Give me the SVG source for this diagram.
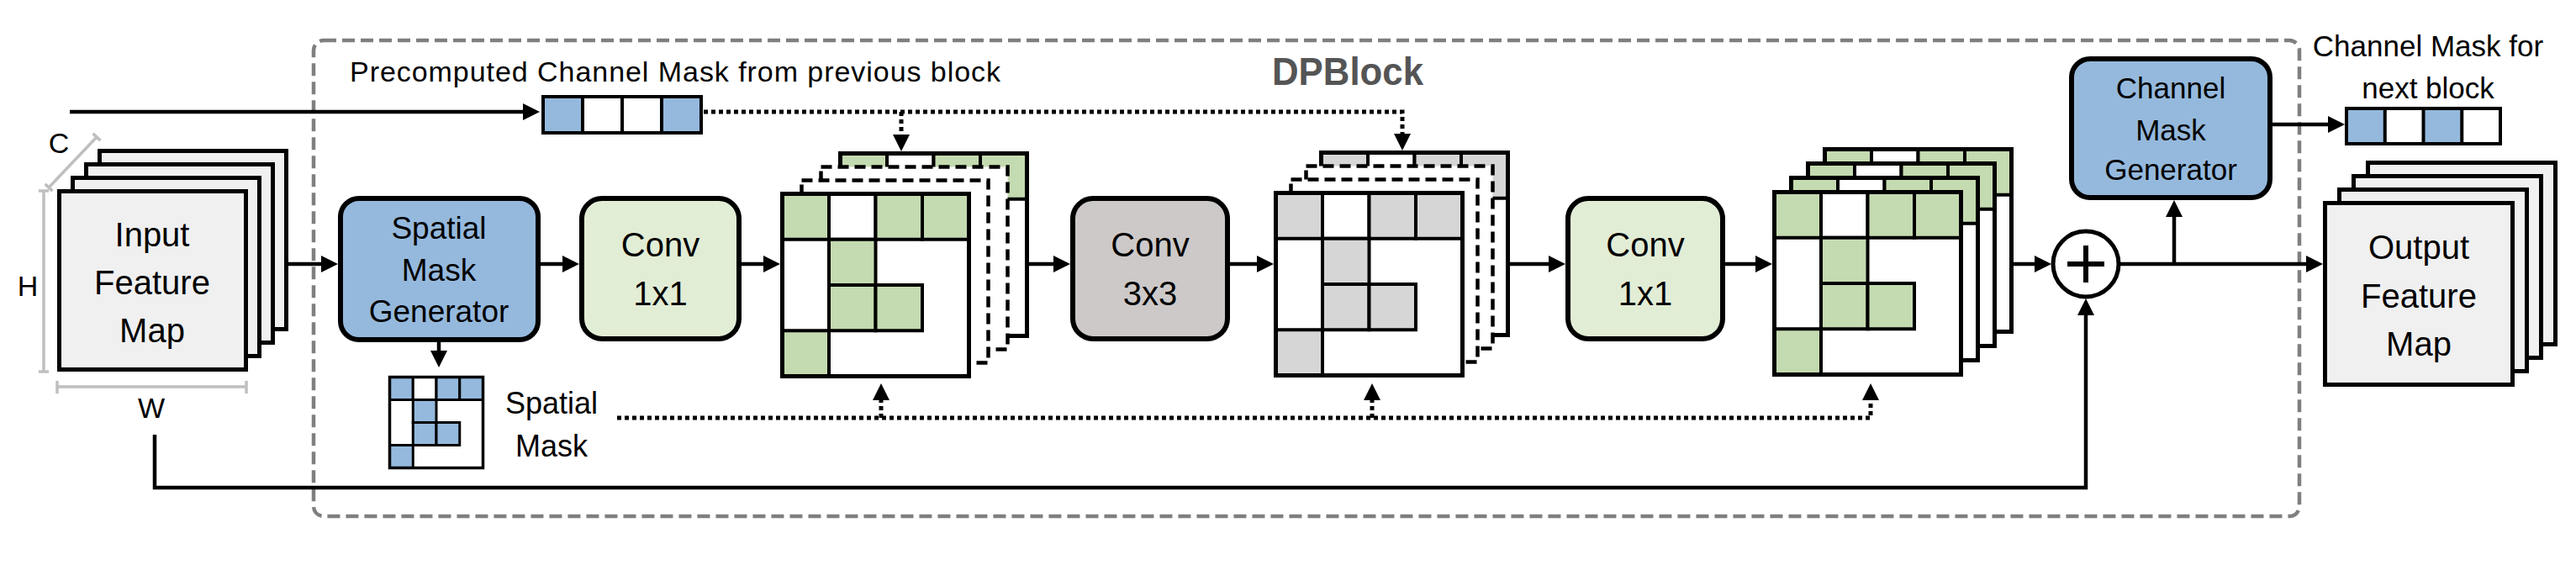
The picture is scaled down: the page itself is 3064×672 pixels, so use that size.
<svg xmlns="http://www.w3.org/2000/svg" xmlns:xlink="http://www.w3.org/1999/xlink" width="3064" height="672" viewBox="0 0 3064 672">
<style>
.t{font-family:"Liberation Sans",Arial,sans-serif;fill:#000;text-anchor:middle}
.box{stroke:#000;stroke-width:6}
.blue{fill:#95b9dd}
.grn{fill:#e2edd6}
.gry{fill:#cdc9c9}
.map{fill:#f0f0f0;stroke:#000;stroke-width:5}
.ln{fill:none;stroke:#000;stroke-width:4.5}
.dot{fill:none;stroke:#000;stroke-width:5;stroke-dasharray:5 4}
.dash{fill:#fff;stroke:#000;stroke-width:4.5;stroke-dasharray:13 7}
.dim{fill:none;stroke:#bfbfbf;stroke-width:3.5}
.cg{fill:#c4dab0;stroke:#000;stroke-width:4}
.cy{fill:#d6d6d6;stroke:#000;stroke-width:4}
.cb{fill:#95b9dd;stroke:#000;stroke-width:3}
.cw{fill:#fff;stroke:#000;stroke-width:4}
.cw3{fill:#fff;stroke:#000;stroke-width:3}
</style>
<defs>
<marker id="ah" markerUnits="userSpaceOnUse" markerWidth="20" markerHeight="20" viewBox="0 0 20 20" refX="8" refY="10" orient="auto">
<path d="M0,0 L20,10 L0,20 Z" fill="#000"/>
</marker>
<g id="gridG">
<rect x="0" y="0" width="222" height="217" fill="#fff"/>
<rect class="cg" x="0" y="0" width="55.5" height="54.25"/>
<rect class="cw" x="55.5" y="0" width="55.5" height="54.25"/>
<rect class="cg" x="111" y="0" width="55.5" height="54.25"/>
<rect class="cg" x="166.5" y="0" width="55.5" height="54.25"/>
<rect class="cg" x="55.5" y="54.25" width="55.5" height="54.25"/>
<rect class="cg" x="55.5" y="108.5" width="55.5" height="54.25"/>
<rect class="cg" x="111" y="108.5" width="55.5" height="54.25"/>
<rect class="cg" x="0" y="162.75" width="55.5" height="54.25"/>
<rect x="0" y="0" width="222" height="217" fill="none" stroke="#000" stroke-width="5"/>
</g>
<g id="gridY">
<rect x="0" y="0" width="222" height="217" fill="#fff"/>
<rect class="cy" x="0" y="0" width="55.5" height="54.25"/>
<rect class="cw" x="55.5" y="0" width="55.5" height="54.25"/>
<rect class="cy" x="111" y="0" width="55.5" height="54.25"/>
<rect class="cy" x="166.5" y="0" width="55.5" height="54.25"/>
<rect class="cy" x="55.5" y="54.25" width="55.5" height="54.25"/>
<rect class="cy" x="55.5" y="108.5" width="55.5" height="54.25"/>
<rect class="cy" x="111" y="108.5" width="55.5" height="54.25"/>
<rect class="cy" x="0" y="162.75" width="55.5" height="54.25"/>
<rect x="0" y="0" width="222" height="217" fill="none" stroke="#000" stroke-width="5"/>
</g>
</defs>
<rect width="3064" height="672" fill="#fff"/>

<g id="dpblock-border">
<rect x="373" y="48" width="2362" height="566" rx="12" fill="none" stroke="#7f7f7f" stroke-width="4.5" stroke-dasharray="15 7"/>
<text x="1603" y="101" font-family="Liberation Sans,Arial,sans-serif" font-weight="bold" font-size="46" fill="#555" text-anchor="middle" textLength="180" lengthAdjust="spacingAndGlyphs">DPBlock</text>
</g>

<g id="input-map">
<rect class="map" x="118.5" y="179.5" width="222" height="212"/>
<rect class="map" x="102.5" y="195.5" width="222" height="212"/>
<rect class="map" x="86.5" y="211.5" width="222" height="212"/>
<rect class="map" x="70.5" y="227.5" width="222" height="212"/>
<text class="t" font-size="40" x="181" y="293">Input</text>
<text class="t" font-size="40" x="181" y="350">Feature</text>
<text class="t" font-size="40" x="181" y="407">Map</text>
<path class="dim" d="M52,227 V442 M46,227 H58 M46,442 H58"/>
<path class="dim" d="M68,460 H293 M68,453 V468 M293,453 V468"/>
<path class="dim" d="M58,223 L115,163 M53.6,218.9 L62.4,227.1 M110.6,158.9 L119.4,167.1"/>
<text class="t" font-size="34" x="70" y="182">C</text>
<text class="t" font-size="34" x="33" y="352">H</text>
<text class="t" font-size="34" x="180" y="497">W</text>
</g>

<g id="precomputed-mask">
<text x="416" y="97" font-family="Liberation Sans,Arial,sans-serif" font-size="34" textLength="774" lengthAdjust="spacing">Precomputed Channel Mask from previous block</text>
<rect x="646" y="115" width="47" height="43" class="blue"/>
<rect x="787" y="115" width="47" height="43" class="blue"/>
<path d="M693,115 V158 M740,115 V158 M787,115 V158" stroke="#000" stroke-width="4"/>
<rect x="646" y="115" width="188" height="43" fill="none" stroke="#000" stroke-width="4"/>
</g>

<g id="spatial-mask-generator">
<rect class="box blue" x="405" y="236" width="235" height="168" rx="22"/>
<text class="t" font-size="37" x="522" y="284">Spatial</text>
<text class="t" font-size="37" x="522" y="334">Mask</text>
<text class="t" font-size="37" x="522" y="383">Generator</text>
</g>

<g id="spatial-mask">
<rect x="463.5" y="448.5" width="111" height="108" fill="#fff"/>
<rect class="cb" x="463.5" y="448.5" width="27.75" height="27"/>
<rect class="cw3" x="491.25" y="448.5" width="27.75" height="27"/>
<rect class="cb" x="519" y="448.5" width="27.75" height="27"/>
<rect class="cb" x="546.75" y="448.5" width="27.75" height="27"/>
<rect class="cb" x="491.25" y="475.5" width="27.75" height="27"/>
<rect class="cb" x="491.25" y="502.5" width="27.75" height="27"/>
<rect class="cb" x="519" y="502.5" width="27.75" height="27"/>
<rect class="cb" x="463.5" y="529.5" width="27.75" height="27"/>
<rect x="463.5" y="448.5" width="111" height="108" fill="none" stroke="#000" stroke-width="3.5"/>
<text class="t" font-size="36" x="656" y="492">Spatial</text>
<text class="t" font-size="36" x="656" y="543">Mask</text>
</g>

<g id="conv1x1-a">
<rect class="box grn" x="692" y="236" width="187" height="167" rx="24"/>
<text class="t" font-size="40" x="785.5" y="305">Conv</text>
<text class="t" font-size="40" x="785.5" y="363">1x1</text>
</g>

<g id="features-1">
<use href="#gridG" x="999.5" y="182.5"/>
<rect class="dash" x="976.5" y="198.5" width="222" height="217"/>
<rect class="dash" x="953.5" y="214.5" width="222" height="217"/>
<use href="#gridG" x="930.5" y="230.5"/>
</g>

<g id="conv3x3">
<rect class="box gry" x="1276" y="236" width="184" height="167" rx="24"/>
<text class="t" font-size="40" x="1368" y="305">Conv</text>
<text class="t" font-size="40" x="1368" y="363">3x3</text>
</g>

<g id="features-2">
<use href="#gridY" x="1571.5" y="181.5"/>
<rect class="dash" x="1553.5" y="197.5" width="222" height="217"/>
<rect class="dash" x="1535.5" y="213.5" width="222" height="217"/>
<use href="#gridY" x="1517.5" y="229.5"/>
</g>

<g id="conv1x1-b">
<rect class="box grn" x="1865" y="236" width="184" height="167" rx="24"/>
<text class="t" font-size="40" x="1957" y="305">Conv</text>
<text class="t" font-size="40" x="1957" y="363">1x1</text>
</g>

<g id="features-3">
<use href="#gridG" x="2170.5" y="177.5"/>
<use href="#gridG" x="2150.5" y="194.5"/>
<use href="#gridG" x="2130.5" y="211.5"/>
<use href="#gridG" x="2110.5" y="228.5"/>
</g>

<g id="add">
<circle cx="2481" cy="314" r="39" fill="#fff" stroke="#000" stroke-width="5"/>
<path d="M2459,314 H2503 M2481,292 V336" stroke="#000" stroke-width="6"/>
</g>

<g id="channel-mask-generator">
<rect class="box blue" x="2464" y="70" width="236" height="165" rx="22"/>
<text class="t" font-size="35" x="2582" y="117">Channel</text>
<text class="t" font-size="35" x="2582" y="167">Mask</text>
<text class="t" font-size="35" x="2582" y="214">Generator</text>
</g>

<g id="next-mask">
<text class="t" font-size="35" x="2888" y="67">Channel Mask for</text>
<text class="t" font-size="35" x="2888" y="117">next block</text>
<rect x="2791" y="129" width="45.75" height="42" class="blue"/>
<rect x="2882.5" y="129" width="45.75" height="42" class="blue"/>
<path d="M2836.75,129 V171 M2882.5,129 V171 M2928.25,129 V171" stroke="#000" stroke-width="4"/>
<rect x="2791" y="129" width="183" height="42" fill="none" stroke="#000" stroke-width="4"/>
</g>

<g id="output-map">
<rect class="map" x="2816.5" y="193.5" width="223" height="216"/>
<rect class="map" x="2799.5" y="209.5" width="223" height="216"/>
<rect class="map" x="2782.5" y="225.5" width="223" height="216"/>
<rect class="map" x="2765.5" y="241.5" width="223" height="216"/>
<text class="t" font-size="40" x="2877" y="308">Output</text>
<text class="t" font-size="40" x="2877" y="366">Feature</text>
<text class="t" font-size="40" x="2877" y="423">Map</text>
</g>

<g id="connectors">
<path class="ln" d="M83,133 H630" marker-end="url(#ah)"/>
<path class="ln" d="M343,314 H390" marker-end="url(#ah)"/>
<path class="ln" d="M643,314 H677" marker-end="url(#ah)"/>
<path class="ln" d="M882,314 H916" marker-end="url(#ah)"/>
<path class="ln" d="M1224,314 H1261" marker-end="url(#ah)"/>
<path class="ln" d="M1463,314 H1503" marker-end="url(#ah)"/>
<path class="ln" d="M1796,314 H1850" marker-end="url(#ah)"/>
<path class="ln" d="M2052,314 H2096" marker-end="url(#ah)"/>
<path class="ln" d="M2395,314 H2428" marker-end="url(#ah)"/>
<path class="ln" d="M2522,314 H2751" marker-end="url(#ah)"/>
<path class="ln" d="M2586,314 V250" marker-end="url(#ah)"/>
<path class="ln" d="M2703,148 H2777" marker-end="url(#ah)"/>
<path class="ln" d="M184,517 V580 H2481 V367" marker-end="url(#ah)"/>
<path class="ln" d="M522,407 V425" marker-end="url(#ah)"/>
<path class="dot" d="M837,133 H1668 V167" marker-end="url(#ah)"/>
<path class="dot" d="M1072,133 V168" marker-end="url(#ah)"/>
<path class="dot" d="M734,497 H2225 V468" marker-end="url(#ah)"/>
<path class="dot" d="M1048,497 V468" marker-end="url(#ah)"/>
<path class="dot" d="M1632,497 V468" marker-end="url(#ah)"/>
</g>
</svg>
